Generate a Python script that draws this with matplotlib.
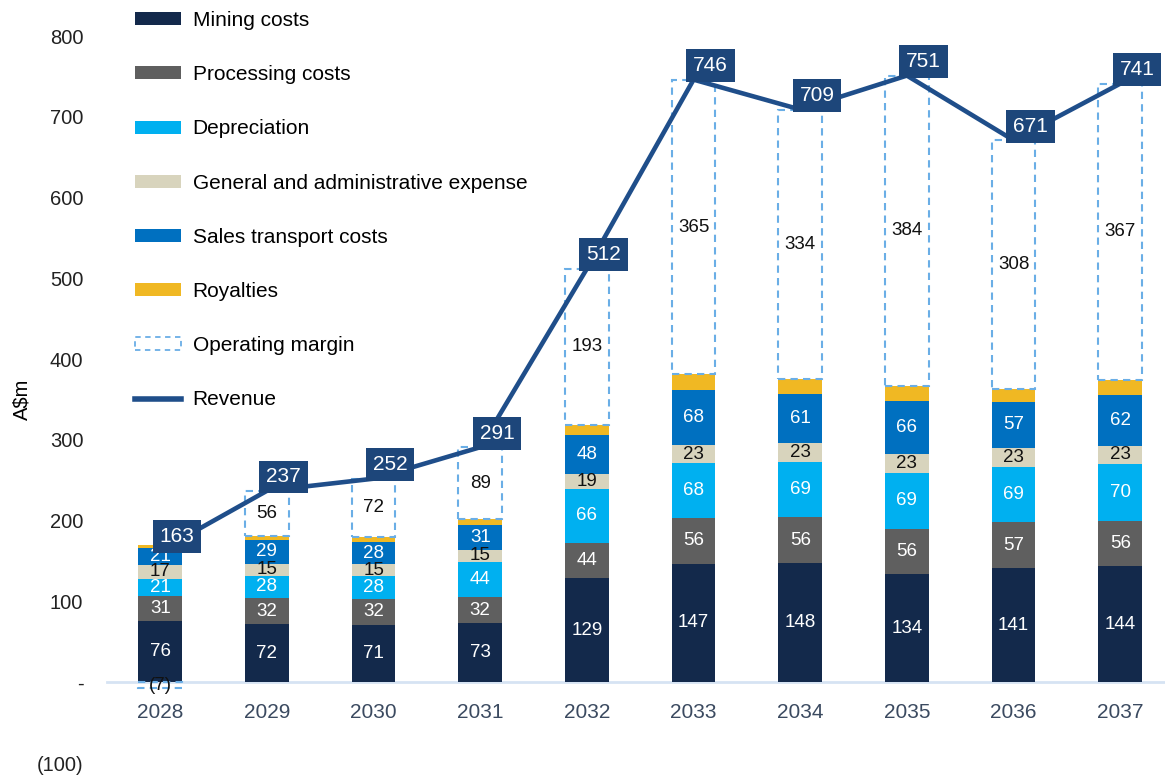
import numpy as np
import matplotlib.pyplot as plt
from matplotlib.patches import Patch, Rectangle
from matplotlib.lines import Line2D

plt.rcParams['font.family'] = ['Liberation Sans', 'DejaVu Sans']

years = ['2028', '2029', '2030', '2031', '2032', '2033', '2034', '2035', '2036', '2037']
mining = [76, 72, 71, 73, 129, 147, 148, 134, 141, 144]
processing = [31, 32, 32, 32, 44, 56, 56, 56, 57, 56]
depreciation = [21, 28, 28, 44, 66, 68, 69, 69, 69, 70]
gna = [17, 15, 15, 15, 19, 23, 23, 23, 23, 23]
transport = [21, 29, 28, 31, 48, 68, 61, 66, 57, 62]
royalties = [4, 5, 6, 7, 13, 19, 18, 19, 16, 19]
margin = [-7, 56, 72, 89, 193, 365, 334, 384, 308, 367]
revenue = [163, 237, 252, 291, 512, 746, 709, 751, 671, 741]

series = [
    ('Mining costs', mining, '#13294b', 'white'),
    ('Processing costs', processing, '#5f5f5f', 'white'),
    ('Depreciation', depreciation, '#00b0f0', 'white'),
    ('General and administrative expense', gna, '#d8d4bd', '#111111'),
    ('Sales transport costs', transport, '#0070c0', 'white'),
    ('Royalties', royalties, '#f0b823', None),
]
margin_col = '#6aaee6'
rev_col = '#1f4e8a'
box_col = '#1d467a'

fig = plt.figure(figsize=(11.65, 7.76), dpi=100)
ax = fig.add_axes([0.0918, 0.0167, 0.9082, 0.9369])

x = np.arange(len(years))
w = 0.41
bottom = np.zeros(len(years))
for name, vals, col, tcol in series:
    vals = np.array(vals, dtype=float)
    ax.bar(x, vals, w, bottom=bottom, color=col, zorder=2)
    if tcol is not None:
        for xi, b, v in zip(x, bottom, vals):
            ax.text(xi, b + v / 2, f'{v:.0f}', ha='center', va='center',
                    color=tcol, fontsize=13.5, zorder=5)
    bottom += vals

# operating margin (dashed boxes)
for xi, b, m in zip(x, bottom, margin):
    y0 = b if m >= 0 else 0
    ax.add_patch(Rectangle((xi - w / 2, y0), w, m, fill=False, edgecolor=margin_col,
                           linestyle=(0, (3.5, 2.5)), linewidth=1.5, zorder=3))
    lbl = f'{m}' if m >= 0 else f'({-m})'
    ax.text(xi, y0 + m / 2, lbl, ha='center', va='center', color='#111111',
            fontsize=13.5, zorder=5)

# revenue line with boxed labels
ax.plot(x, revenue, color=rev_col, linewidth=3.3, zorder=6)
for xi, r in zip(x, revenue):
    ax.annotate(f'{r}', (xi, r), xytext=(12, 10), textcoords='offset points',
                ha='center', va='center', color='white', fontsize=15, zorder=7,
                bbox=dict(boxstyle='square,pad=0.33', facecolor=box_col, edgecolor='none'))

ax.set_xlim(-0.5, 9.42)
ax.set_ylim(-100, 800)
ax.set_yticks(range(-100, 801, 100))
ax.set_yticklabels(['(100)', '-'] + [str(v) for v in range(100, 801, 100)])
ax.set_xticks(x)
ax.set_xticklabels(years)
for s in ['top', 'right', 'left']:
    ax.spines[s].set_visible(False)
ax.spines['bottom'].set_position(('data', 0))
ax.spines['bottom'].set_color('#d6e3f3')
ax.spines['bottom'].set_linewidth(2)
ax.spines['bottom'].set_zorder(1)
ax.tick_params(axis='y', length=0, pad=17, labelsize=14.5, labelcolor='#222222')
ax.tick_params(axis='x', length=0, pad=15, labelsize=15, labelcolor='#3b4a60')
ax.set_ylabel('A$m', fontsize=14.5)
ax.yaxis.set_label_coords(-0.071, 0.5)

handles = [Patch(facecolor=c, edgecolor='none') for _, _, c, _ in series]
handles.append(Patch(facecolor='none', edgecolor=margin_col, linestyle=(0, (3, 2.5)), linewidth=1.3))
handles.append(Line2D([0], [0], color=rev_col, linewidth=4))
labels = [s[0] for s in series] + ['Operating margin', 'Revenue']
fig.legend(handles, labels, loc='upper left', bbox_to_anchor=(0.1, 1.01), frameon=False,
           fontsize=15, labelspacing=1.69, handlelength=2.2, handleheight=0.58,
           handletextpad=0.55)

fig.savefig('out.png', dpi=100)
